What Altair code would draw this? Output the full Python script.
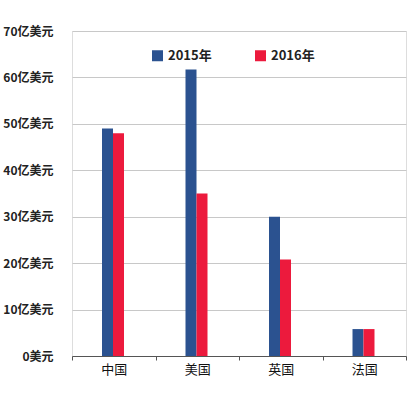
import altair as alt
import pandas as pd

countries = ["中国", "美国", "英国", "法国"]
years = ["2015年", "2016年"]
values_2015 = [49, 61.7, 30, 5.8]
values_2016 = [48, 35, 20.8, 5.8]
colors = ["#2b5290", "#ec1a3d"]
y_ticks = [0, 10, 20, 30, 40, 50, 60, 70]

rows = []
for c, v1, v2 in zip(countries, values_2015, values_2016):
    rows.append({"country": c, "year": years[0], "value": v1})
    rows.append({"country": c, "year": years[1], "value": v2})
df = pd.DataFrame(rows)

font = "Noto Sans CJK SC"

chart = alt.Chart(df).mark_bar().encode(
    x=alt.X("country:N", sort=countries,
            scale=alt.Scale(paddingInner=0, paddingOuter=0),
            axis=alt.Axis(title=None, labelAngle=0, tickBand="extent", ticks=True,
                          tickSize=4, tickColor="#555", domainColor="#555",
                          labelPadding=3, labelFont=font, labelFontSize=13,
                          labelColor="#111", grid=False)),
    xOffset=alt.XOffset("year:N", sort=years,
                        scale=alt.Scale(paddingInner=0, paddingOuter=0, range=[30, 52])),
    y=alt.Y("value:Q", scale=alt.Scale(domain=[0, 70], nice=False),
            axis=alt.Axis(title=None, values=y_ticks, domain=False, ticks=False,
                          labelExpr="datum.value == 0 ? '0美元' : datum.value + '亿美元'",
                          labelPadding=19, labelFont=font, labelFontSize=12,
                          labelFontWeight="bold", labelColor="#222",
                          gridColor="#c8c8c8", gridWidth=1)),
    color=alt.Color("year:N", sort=years,
                    scale=alt.Scale(domain=years, range=colors),
                    legend=alt.Legend(title=None, orient="none", legendX=79, legendY=18,
                                      direction="horizontal", symbolType="square",
                                      symbolSize=121, symbolStrokeWidth=0,
                                      labelFont=font, labelFontSize=13,
                                      labelFontWeight="bold", labelColor="#222",
                                      labelOffset=4, columnPadding=42)),
).properties(
    width=334, height=325,
    autosize=alt.AutoSizeParams(type="none"),
    padding={"left": 72, "top": 31, "right": 1, "bottom": 37},
).configure_view(stroke=None).configure(background="white")

chart.save("out.html", embed_options={"renderer": "svg", "actions": False})
